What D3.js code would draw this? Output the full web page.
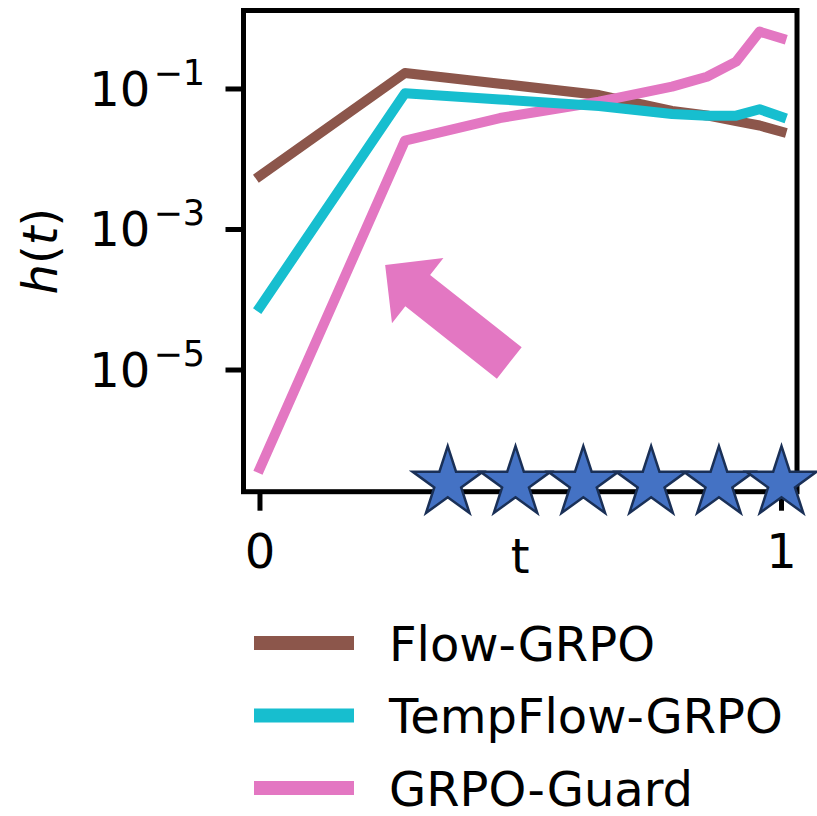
<!DOCTYPE html>
<html>
<head>
<meta charset="utf-8">
<script src="https://cdn.jsdelivr.net/npm/d3@7"></script>
<style>
  body { margin: 0; background: #fff; }
  svg { display: block; font-family: "DejaVu Sans", sans-serif; }
</style>
</head>
<body>
<div id="chart"></div>
<script>
// data
var tValues = [0, 0.278, 0.46, 0.65, 0.79, 0.857, 0.913, 0.958, 1.0];
var seriesNames = ["Flow-GRPO", "TempFlow-GRPO", "GRPO-Guard"];
var seriesColors = ["#8c564b", "#17becf", "#e377c2"];
var flowGrpo = [0.0058, 0.169, 0.119, 0.082, 0.0488, 0.042, 0.0349, 0.0302, 0.0247];
var tempFlowGrpo = [7.9e-5, 0.0868, 0.071, 0.0573, 0.044, 0.0417, 0.0417, 0.0514, 0.040];
var grpoGuard = [4.0e-7, 0.0184, 0.0386, 0.0659, 0.108, 0.1496, 0.245, 0.655, 0.527];
var starT = [0.36, 0.49, 0.62, 0.75, 0.88, 1.0];
var starLevel = 2.46e-7;
var arrowFrom = {t: 0.478, h: 1.26e-5};
var arrowTo = {t: 0.24, h: 3.13e-4};
var xTicks = [0, 1];
var xTickLabels = ["0", "1"];
var yTicks = [1e-1, 1e-3, 1e-5];
var yTickExp = ["\u22121", "\u22123", "\u22125"];

var width = 817, height = 816;
var box = {left: 243.5, right: 797, top: 10.5, bottom: 491.7};

var svg = d3.select("#chart")
  .append("svg")
  .attr("width", width)
  .attr("height", height);

var x = d3.scaleLinear()
  .domain([-0.0316, 1.0297])
  .range([box.left, box.right]);

var y = d3.scaleLog()
  .domain([Math.pow(10, -6.732), Math.pow(10, 0.117)])
  .range([box.bottom, box.top]);

svg.append("clipPath")
  .attr("id", "plotclip")
  .append("rect")
  .attr("x", box.left)
  .attr("y", box.top)
  .attr("width", box.right - box.left)
  .attr("height", box.bottom - box.top);

// lines (cyan drawn last, it sits on top of the others)
var series = [
  {name: seriesNames[0], color: seriesColors[0], values: flowGrpo},
  {name: seriesNames[1], color: seriesColors[1], values: tempFlowGrpo},
  {name: seriesNames[2], color: seriesColors[2], values: grpoGuard}
];
var drawOrder = [0, 2, 1];

var line = d3.line()
  .x(function(d) { return x(d[0]); })
  .y(function(d) { return y(d[1]); });

var lines = svg.append("g").attr("clip-path", "url(#plotclip)");
drawOrder.forEach(function(i) {
  var s = series[i];
  lines.append("path")
    .datum(tValues.map(function(t, j) { return [t, s.values[j]]; }))
    .attr("d", line)
    .attr("fill", "none")
    .attr("stroke", s.color)
    .attr("stroke-width", 10)
    .attr("stroke-linejoin", "round")
    .attr("stroke-linecap", "square");
});

// pink arrow
function arrowPath(p0, p1, shaftW, headW, headL) {
  var dx = p1[0] - p0[0], dy = p1[1] - p0[1];
  var len = Math.sqrt(dx * dx + dy * dy);
  var ux = dx / len, uy = dy / len;
  var nx = -uy, ny = ux;
  var bx = p1[0] - ux * headL, by = p1[1] - uy * headL;
  var pts = [
    [p0[0] + nx * shaftW / 2, p0[1] + ny * shaftW / 2],
    [bx + nx * shaftW / 2, by + ny * shaftW / 2],
    [bx + nx * headW / 2, by + ny * headW / 2],
    p1,
    [bx - nx * headW / 2, by - ny * headW / 2],
    [bx - nx * shaftW / 2, by - ny * shaftW / 2],
    [p0[0] - nx * shaftW / 2, p0[1] - ny * shaftW / 2]
  ];
  return "M" + pts.map(function(p) { return p.join(","); }).join("L") + "Z";
}

svg.append("path")
  .attr("d", arrowPath([x(arrowFrom.t), y(arrowFrom.h)], [x(arrowTo.t), y(arrowTo.h)], 40, 83, 41.5))
  .attr("fill", seriesColors[2]);

// spines
svg.append("rect")
  .attr("x", box.left)
  .attr("y", box.top)
  .attr("width", box.right - box.left)
  .attr("height", box.bottom - box.top)
  .attr("fill", "none")
  .attr("stroke", "#000")
  .attr("stroke-width", 5);

// x axis ticks
svg.selectAll(".xtick")
  .data(xTicks)
  .enter()
  .append("line")
  .attr("class", "xtick")
  .attr("x1", function(d) { return x(d); })
  .attr("x2", function(d) { return x(d); })
  .attr("y1", box.bottom)
  .attr("y2", box.bottom + 19)
  .attr("stroke", "#000")
  .attr("stroke-width", 5);

svg.selectAll(".xlabel")
  .data(xTicks)
  .enter()
  .append("text")
  .attr("class", "xlabel")
  .attr("x", function(d) { return x(d); })
  .attr("y", 568)
  .attr("text-anchor", "middle")
  .style("font-size", "48px")
  .text(function(d, i) { return xTickLabels[i]; });

svg.append("text")
  .attr("x", (box.left + box.right) / 2)
  .attr("y", 573)
  .attr("text-anchor", "middle")
  .style("font-size", "48px")
  .text("t");

// y axis ticks
svg.selectAll(".ytick")
  .data(yTicks)
  .enter()
  .append("line")
  .attr("class", "ytick")
  .attr("x1", box.left - 18)
  .attr("x2", box.left)
  .attr("y1", function(d) { return y(d); })
  .attr("y2", function(d) { return y(d); })
  .attr("stroke", "#000")
  .attr("stroke-width", 5);

var ylab = svg.selectAll(".ylabel")
  .data(yTicks)
  .enter()
  .append("text")
  .attr("class", "ylabel")
  .attr("x", 205)
  .attr("y", function(d) { return y(d) + 17; })
  .attr("text-anchor", "end")
  .style("font-size", "48px");
ylab.append("tspan").text("10");
ylab.append("tspan")
  .attr("dx", 3)
  .attr("dy", -21)
  .style("font-size", "35px")
  .text(function(d, i) { return yTickExp[i]; });

// y axis title h(t)
var ytitle = svg.append("text")
  .attr("transform", "translate(57," + ((box.top + box.bottom) / 2) + ")rotate(-90)")
  .attr("text-anchor", "middle")
  .style("font-size", "48px");
ytitle.append("tspan").style("font-style", "italic").text("h");
ytitle.append("tspan").text("(");
ytitle.append("tspan").style("font-style", "italic").text("t");
ytitle.append("tspan").text(")");

// stars along the bottom, drawn over the axis
var star = d3.symbol().type(d3.symbolStar).size(1537);
svg.selectAll(".star")
  .data(starT)
  .enter()
  .append("path")
  .attr("class", "star")
  .attr("transform", function(d) { return "translate(" + x(d) + "," + y(starLevel) + ")"; })
  .attr("d", star)
  .attr("fill", "#4472c4")
  .attr("stroke", "#1a3057")
  .attr("stroke-width", 2.5);

// legend
var legend = svg.append("g");
series.forEach(function(s, i) {
  var ly = 643 + i * 72.5;
  legend.append("line")
    .attr("x1", 254)
    .attr("x2", 354)
    .attr("y1", ly)
    .attr("y2", ly)
    .attr("stroke", s.color)
    .attr("stroke-width", 14);
  legend.append("text")
    .attr("x", 389)
    .attr("y", ly + 17.5)
    .style("font-size", "48px")
    .text(s.name);
});
</script>
</body>
</html>
